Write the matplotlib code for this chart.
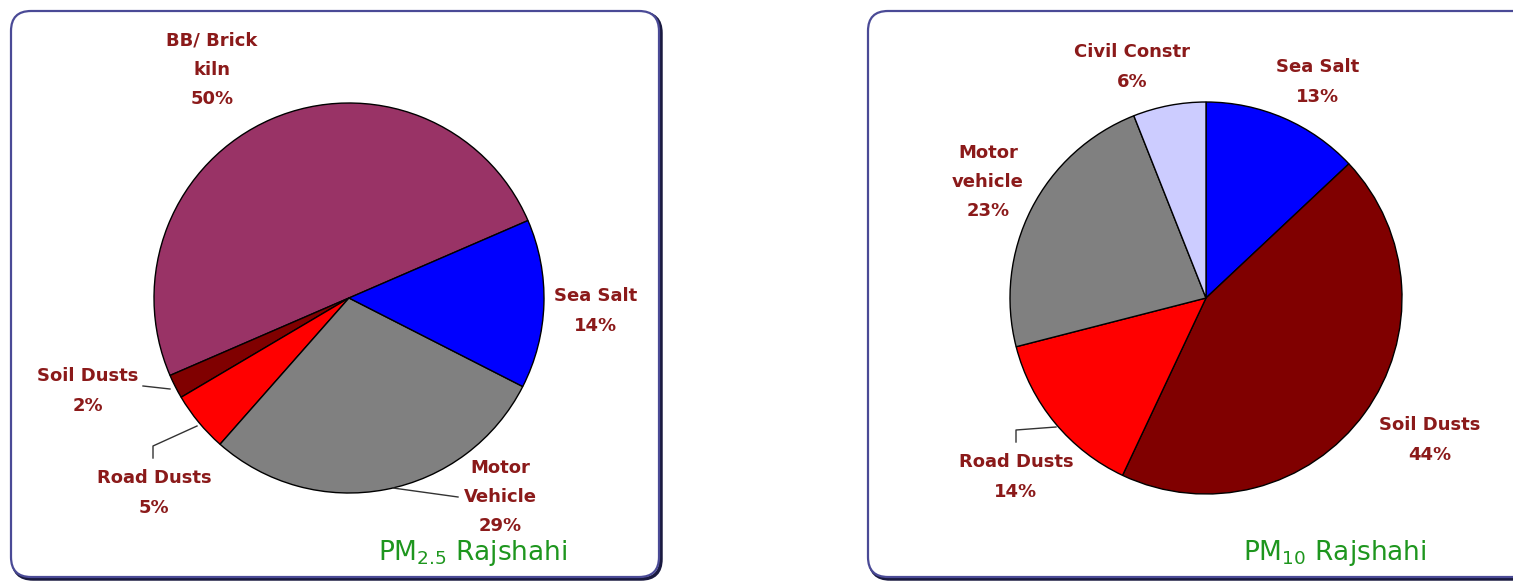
import matplotlib
matplotlib.use("Agg")
import matplotlib.pyplot as plt
from matplotlib.patches import FancyBboxPatch

# ---- data ----
pm25_labels = ["BB/ Brick\nkiln", "Soil Dusts", "Road Dusts", "Motor\nVehicle", "Sea Salt"]
pm25_values = [50, 2, 5, 29, 14]
pm25_colors = ["#993366", "#800000", "#FF0000", "#808080", "#0000FF"]

pm10_labels = ["Sea Salt", "Soil Dusts", "Road Dusts", "Motor\nvehicle", "Civil Constr"]
pm10_values = [13, 44, 14, 23, 6]
pm10_colors = ["#0000FF", "#800000", "#FF0000", "#808080", "#CCCCFF"]

W, H = 1513, 582
fig = plt.figure(figsize=(W / 100, H / 100), dpi=100)
ax = fig.add_axes([0, 0, 1, 1])

def Y(y):  # pixel (top-down) -> data (bottom-up)
    return H - y

# frames
def frame(x0, y0, x1, y1):
    shadow = FancyBboxPatch((x0 + 2, Y(y1) - 2), x1 - x0, y1 - y0,
                            boxstyle="round,pad=0,rounding_size=20",
                            fc="none", ec="#1a1a40", lw=2.5, zorder=1)
    box = FancyBboxPatch((x0, Y(y1)), x1 - x0, y1 - y0,
                         boxstyle="round,pad=0,rounding_size=20",
                         fc="white", ec="#4a4a96", lw=1.6, zorder=2)
    ax.add_patch(shadow)
    ax.add_patch(box)

frame(11, 11, 659, 577)
frame(868, 11, 1540, 577)

wp = dict(edgecolor="black", linewidth=1.0, zorder=3)
ax.pie(pm25_values, colors=pm25_colors, startangle=23.4, counterclock=True,
       center=(349, Y(298)), radius=195, wedgeprops=wp)
ax.pie(pm10_values, colors=pm10_colors, startangle=90, counterclock=False,
       center=(1206, Y(298)), radius=196, wedgeprops=wp)

ax.set_xlim(0, W)
ax.set_ylim(0, H)
ax.set_aspect("auto")
ax.axis("off")

lab_font = ["Liberation Sans Narrow", "DejaVu Sans"]
lab_col = "#8B1A1A"

def lab(text, x, y):
    ax.text(x, Y(y), text, ha="center", va="center", color=lab_col,
            fontsize=13, family=lab_font, fontweight="bold", linespacing=1.8, zorder=5)

# left labels
left_pos = [(212, 70), (88, 391), (154, 493), (500, 497), (596, 311)]
for l, v, (x, y) in zip(pm25_labels, pm25_values, left_pos):
    lab(f"{l}\n{v}%", x, y)

# right labels
right_pos = [(1318, 82), (1430, 440), (1016, 477), (988, 182), (1132, 67)]
for l, v, (x, y) in zip(pm10_labels, pm10_values, right_pos):
    lab(f"{l}\n{v}%", x, y)

# leader lines
lk = dict(color="#333333", lw=1.0, zorder=4)
ax.plot([143, 170], [Y(386), Y(389)], **lk)
ax.plot([153, 153, 197], [Y(458), Y(446), Y(426)], **lk)
ax.plot([393, 458], [Y(488), Y(497)], **lk)
ax.plot([1016, 1016, 1056], [Y(442), Y(430), Y(427)], **lk)

# titles
tc = "#1E961E"
ax.text(473, Y(553), r"PM$_{2.5}$ Rajshahi", ha="center", va="center",
        color=tc, fontsize=19, family=lab_font, zorder=5)
ax.text(1335, Y(553), r"PM$_{10}$ Rajshahi", ha="center", va="center",
        color=tc, fontsize=19, family=lab_font, zorder=5)

fig.savefig("out.png", dpi=100)
